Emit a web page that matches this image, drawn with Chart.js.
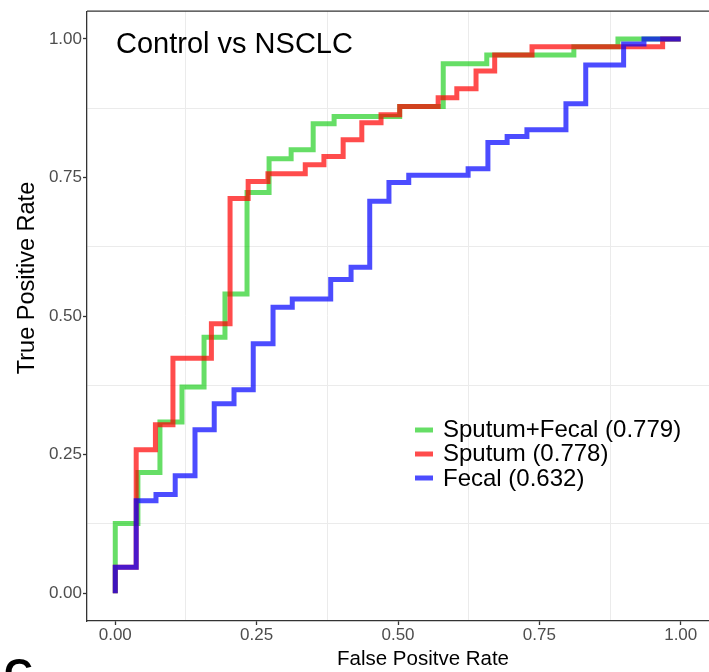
<!DOCTYPE html>
<html>
<head>
<meta charset="utf-8">
<script src="https://cdn.jsdelivr.net/npm/chart.js@4.4.0/dist/chart.umd.min.js"></script>
<style>
html, body { margin: 0; padding: 0; background: #fff; }
#wrap { position: relative; width: 709px; height: 672px; }
</style>
</head>
<body>
<div id="wrap"><canvas id="rocChart"></canvas></div>
<script>
// ROC steps: each point is (fpr where the curve jumps up, tpr it reaches)
const comboFpr = [0, 0, 0.040, 0.079, 0.118, 0.157, 0.194, 0.233, 0.272, 0.311, 0.350, 0.387, 0.503, 0.580, 0.657, 0.811, 0.889, 1];
const comboTpr = [0, 0.126, 0.218, 0.309, 0.372, 0.462, 0.540, 0.723, 0.784, 0.800, 0.847, 0.860, 0.878, 0.955, 0.971, 0.986, 1.0, 1];

const sputumFpr = [0, 0, 0.037, 0.071, 0.102, 0.170, 0.203, 0.235, 0.270, 0.336, 0.369, 0.403, 0.436, 0.470, 0.503, 0.571, 0.604, 0.638, 0.671, 0.737, 0.968, 1];
const sputumTpr = [0, 0.047, 0.259, 0.304, 0.424, 0.486, 0.712, 0.743, 0.757, 0.773, 0.788, 0.818, 0.849, 0.863, 0.878, 0.894, 0.910, 0.942, 0.971, 0.986, 1.0, 1];

const fecalFpr = [0, 0, 0.037, 0.072, 0.106, 0.141, 0.175, 0.210, 0.244, 0.279, 0.313, 0.381, 0.417, 0.450, 0.484, 0.519, 0.624, 0.659, 0.693, 0.728, 0.797, 0.832, 0.899, 0.935, 1];
const fecalTpr = [0, 0.047, 0.167, 0.178, 0.212, 0.295, 0.342, 0.367, 0.450, 0.516, 0.531, 0.566, 0.588, 0.707, 0.741, 0.754, 0.766, 0.813, 0.824, 0.836, 0.883, 0.953, 0.991, 1.0, 1];

const seriesNames = ['Sputum+Fecal (0.779)', 'Sputum (0.778)', 'Fecal (0.632)'];
const seriesColors = ['rgba(0,200,0,0.6)', 'rgba(255,0,0,0.7)', 'rgba(0,0,255,0.7)'];

const tickValues = [0, 0.125, 0.25, 0.375, 0.5, 0.625, 0.75, 0.875, 1];
const tickLabels = ['0.00', '', '0.25', '', '0.50', '', '0.75', '', '1.00'];

const chartTitle = 'Control vs NSCLC';
const xTitle = 'False Positve Rate';
const yTitle = 'True Positive Rate';
const panelTag = 'C';

const FONT = '"Liberation Sans", Arial, sans-serif';

function toPoints(xs, ys) {
    return xs.map((x, i) => ({ x: x, y: ys[i] }));
}

function isMajor(v) {
    return Math.abs(v * 4 - Math.round(v * 4)) < 1e-6;
}

function labelFor(v) {
    const i = tickValues.findIndex(t => Math.abs(t - v) < 1e-6);
    return i >= 0 ? tickLabels[i] : '';
}

const axisCommon = {
    type: 'linear',
    min: -0.05,
    max: 1.05,
    afterBuildTicks: (scale) => {
        scale.ticks = tickValues.map(v => ({ value: v }));
    },
    grid: {
        color: (c) => (c.tick && !isMajor(c.tick.value)) ? '#ebebeb' : 'rgba(0,0,0,0)',
        lineWidth: 1,
        tickLength: 4,
        tickWidth: 1.3,
        tickColor: (c) => (c.tick && isMajor(c.tick.value)) ? '#333333' : 'rgba(0,0,0,0)'
    },
    border: { display: true, color: '#333333', width: 1.3 },
    ticks: {
        autoSkip: false,
        maxRotation: 0,
        color: '#4d4d4d',
        font: { family: FONT, size: 17 },
        callback: (v) => labelFor(v)
    }
};

// text and frame bits that ggplot puts around the panel
const decorations = {
    id: 'decorations',
    afterDraw(chart) {
        const { ctx, chartArea } = chart;
        ctx.save();

        ctx.strokeStyle = '#333333';
        ctx.lineWidth = 1.3;
        ctx.beginPath();
        ctx.moveTo(chartArea.left, chartArea.top);
        ctx.lineTo(chartArea.right, chartArea.top);
        ctx.stroke();

        ctx.fillStyle = '#000';
        ctx.textAlign = 'left';
        ctx.textBaseline = 'alphabetic';
        ctx.font = '29px ' + FONT;
        ctx.fillText(chartTitle, 116, 53);

        // legend
        const keyY = [430, 454, 478];
        const textY = [437, 461, 486];
        ctx.font = '24px ' + FONT;
        seriesNames.forEach((name, i) => {
            ctx.strokeStyle = seriesColors[i];
            ctx.lineWidth = 5;
            ctx.beginPath();
            ctx.moveTo(415, keyY[i]);
            ctx.lineTo(433, keyY[i]);
            ctx.stroke();
            ctx.fillStyle = '#000';
            ctx.fillText(name, 443, textY[i]);
        });

        // axis titles
        ctx.font = '20.5px ' + FONT;
        ctx.textAlign = 'center';
        ctx.fillText(xTitle, 423, 665);
        ctx.font = '23.5px ' + FONT;
        ctx.save();
        ctx.translate(34, 278);
        ctx.rotate(-Math.PI / 2);
        ctx.fillText(yTitle, 0, 0);
        ctx.restore();

        ctx.textAlign = 'left';
        ctx.font = 'bold 40px ' + FONT;
        ctx.fillText(panelTag, 4, 687);

        ctx.restore();
    }
};

const ctx = document.getElementById('rocChart').getContext('2d');
const rocChart = new Chart(ctx, {
    type: 'line',
    data: {
        datasets: [
            { label: seriesNames[0], data: toPoints(comboFpr, comboTpr), borderColor: seriesColors[0], order: 3 },
            { label: seriesNames[1], data: toPoints(sputumFpr, sputumTpr), borderColor: seriesColors[1], order: 2 },
            { label: seriesNames[2], data: toPoints(fecalFpr, fecalTpr), borderColor: seriesColors[2], order: 1 }
        ].map(d => Object.assign(d, {
            stepped: 'before',
            borderWidth: 5,
            pointRadius: 0,
            fill: false,
            borderJoinStyle: 'miter',
            borderCapStyle: 'butt'
        }))
    },
    options: {
        responsive: true,
        maintainAspectRatio: false,
        animation: false,
        layout: { padding: { top: 9, right: 0, bottom: 0, left: 0 } },
        plugins: {
            legend: { display: false },
            tooltip: { enabled: false }
        },
        scales: {
            x: Object.assign({}, axisCommon, {
                position: 'bottom',
                ticks: Object.assign({}, axisCommon.ticks, { padding: 0 }),
                afterFit: (scale) => { scale.height = 51; }
            }),
            y: Object.assign({}, axisCommon, {
                position: 'left',
                ticks: Object.assign({}, axisCommon.ticks, { padding: 1 }),
                afterFit: (scale) => { scale.width = 87; }
            })
        }
    },
    plugins: [decorations]
});
</script>
</body>
</html>
